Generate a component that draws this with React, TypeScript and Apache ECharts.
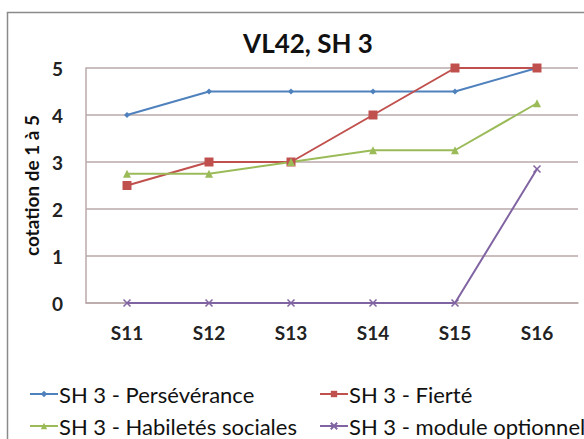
import React, { useEffect, useRef } from "react";
import * as echarts from "echarts";

const categories = ["S11", "S12", "S13", "S14", "S15", "S16"];
const seriesNames = [
  "SH 3 - Persévérance",
  "SH 3 - Fierté",
  "SH 3 - Habiletés sociales",
  "SH 3 - module optionnel",
];
const perseverance = [4, 4.5, 4.5, 4.5, 4.5, 5];
const fierte = [2.5, 3, 3, 4, 5, 5];
const habiletes = [2.75, 2.75, 3, 3.25, 3.25, 4.25];
const module = [0, 0, 0, 0, 0, 2.85];
const yTicks = [0, 1, 2, 3, 4, 5];

const colors = ["#4F81BD", "#C0504D", "#9BBB59", "#8064A2"];
const FONT = "Lato, 'Open Sans', sans-serif";

export default function App() {
  const ref = useRef<HTMLDivElement>(null);
  useEffect(() => {
    document.body.style.margin = "0";
    const chart = echarts.init(ref.current!, null, { renderer: "svg" });
    const symbols = ["diamond", "rect", "triangle", "path://M0,0L10,10M10,0L0,10"];
    const sizes = [6, 9, 8, 7];
    const datas = [perseverance, fierte, habiletes, module];
    const legendPos = [
      { left: 24, top: 378 },
      { left: 314, top: 378 },
      { left: 24, top: 410 },
      { left: 314, top: 410 },
    ];
    chart.setOption({
      animation: false,
      backgroundColor: "#ffffff",
      title: {
        text: "VL42, SH 3",
        left: 303,
        textAlign: "center",
        top: 25,
        textStyle: { fontFamily: FONT, fontSize: 26, fontWeight: "bold", color: "#111" },
      },
      legend: seriesNames.map((n, i) => ({
        data: [n],
        left: legendPos[i].left,
        top: legendPos[i].top,
        itemWidth: 28,
        itemHeight: 8,
        itemGap: 0,
        textStyle: { fontFamily: FONT, fontSize: 22, color: "#111", padding: [0, 0, 0, -4] },
      })),
      grid: { left: 86, right: 6, top: 68, bottom: 136 },
      xAxis: {
        type: "category",
        data: categories,
        boundaryGap: true,
        axisLine: { lineStyle: { color: "#b9a9a9", width: 1.5 } },
        axisTick: { show: false },
        axisLabel: { margin: 20, fontFamily: FONT, fontSize: 19, fontWeight: "bold", color: "#222" },
      },
      yAxis: {
        type: "value",
        min: yTicks[0],
        max: yTicks[yTicks.length - 1],
        interval: 1,
        name: "cotation de 1 à 5",
        nameLocation: "middle",
        nameGap: 38,
        nameTextStyle: { fontFamily: FONT, fontSize: 19, fontWeight: "bold", color: "#111" },
        axisLine: { show: true, lineStyle: { color: "#b9a9a9", width: 1.5 } },
        axisTick: { show: false },
        axisLabel: { margin: 23, fontFamily: FONT, fontSize: 19, fontWeight: "bold", color: "#222" },
        splitLine: { lineStyle: { color: "#b9a9a9", width: 1.5 } },
      },
      series: seriesNames.map((n, i) => ({
        name: n,
        type: "line",
        data: datas[i],
        symbol: symbols[i],
        symbolSize: sizes[i],
        showAllSymbol: true,
        lineStyle: { color: colors[i], width: 2 },
        itemStyle: i === 3
          ? { color: colors[i], borderColor: colors[i], borderWidth: 1.5 }
          : { color: colors[i], borderColor: colors[i], borderWidth: 0 },
      })),
      graphic: [
        {
          type: "rect",
          shape: { x: 7.5, y: 12.5, width: 620, height: 480 },
          style: { fill: "none", stroke: "#8a8a8a", lineWidth: 1.5 },
          silent: true,
        },
      ],
    });
    return () => chart.dispose();
  }, []);
  return <div ref={ref} style={{ width: 584, height: 439 }} />;
}
